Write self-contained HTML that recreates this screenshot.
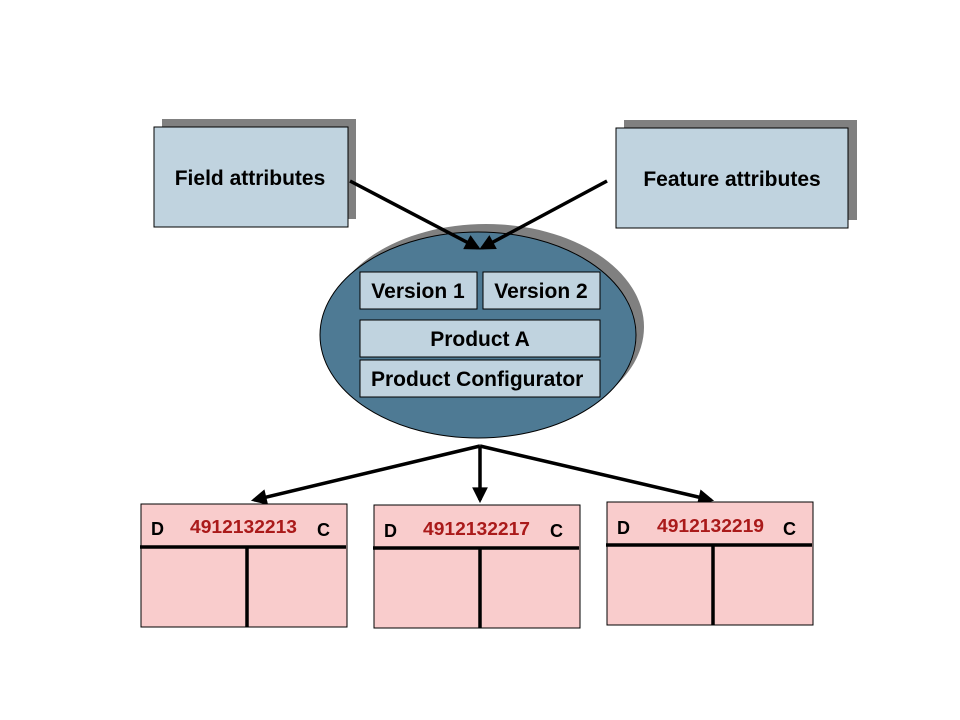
<!DOCTYPE html>
<html><head><meta charset="utf-8"><style>
html,body{margin:0;padding:0;background:#fff;}
svg{display:block;}
text{font-family:"Liberation Sans",Arial,sans-serif;font-weight:bold;}
</style></head><body>
<svg width="960" height="720" viewBox="0 0 960 720" xmlns="http://www.w3.org/2000/svg">
<defs>
<marker id="ah" viewBox="0 0 10 10" refX="8" refY="5" markerWidth="5" markerHeight="4.5" orient="auto" markerUnits="strokeWidth">
<path d="M0,0 L10,5 L0,10 z" fill="#000"/></marker>
</defs>
<rect x="162" y="119" width="194" height="100" fill="#808080"/>
<rect x="154" y="127" width="194" height="100" fill="#c0d3df" stroke="#000" stroke-width="1"/>
<text x="250" y="185" font-size="21" text-anchor="middle">Field attributes</text>
<rect x="624" y="120" width="233" height="100" fill="#808080"/>
<rect x="616" y="128" width="232" height="100" fill="#c0d3df" stroke="#000" stroke-width="1"/>
<text x="732" y="186" font-size="21" text-anchor="middle">Feature attributes</text>
<ellipse cx="486" cy="327" rx="158" ry="103" fill="#808080"/>
<ellipse cx="478" cy="335" rx="158" ry="103" fill="#4e7a94" stroke="#000" stroke-width="1"/>
<rect x="360" y="272" width="117" height="37" fill="#c0d3df" stroke="#000"/>
<rect x="483" y="272" width="117" height="37" fill="#c0d3df" stroke="#000"/>
<rect x="360" y="320" width="240" height="37" fill="#c0d3df" stroke="#000"/>
<rect x="360" y="360" width="240" height="37" fill="#c0d3df" stroke="#000"/>
<text x="418" y="298" font-size="21" text-anchor="middle">Version 1</text>
<text x="541" y="298" font-size="21" text-anchor="middle">Version 2</text>
<text x="480" y="346" font-size="21" text-anchor="middle">Product A</text>
<text x="371" y="386" font-size="21">Product Configurator</text>
<line x1="350" y1="181" x2="478" y2="248" stroke="#000" stroke-width="3.5" marker-end="url(#ah)"/>
<line x1="607" y1="181" x2="482" y2="248" stroke="#000" stroke-width="3.5" marker-end="url(#ah)"/>
<line x1="480" y1="446" x2="254" y2="500" stroke="#000" stroke-width="3.5" marker-end="url(#ah)"/>
<line x1="480" y1="446" x2="480" y2="500" stroke="#000" stroke-width="3.5" marker-end="url(#ah)"/>
<line x1="480" y1="446" x2="711" y2="500" stroke="#000" stroke-width="3.5" marker-end="url(#ah)"/>
<rect x="141" y="504" width="206" height="123" fill="#f9cccc" stroke="#000"/>
<line x1="140" y1="547" x2="346" y2="547" stroke="#000" stroke-width="3.5"/>
<line x1="247" y1="547" x2="247" y2="627" stroke="#000" stroke-width="3.5"/>
<text x="151" y="535" font-size="18">D</text>
<text x="190" y="533" font-size="18" fill="#aa1a1a" textLength="107" lengthAdjust="spacingAndGlyphs">4912132213</text>
<text x="317" y="536" font-size="18">C</text>
<rect x="374" y="505" width="206" height="123" fill="#f9cccc" stroke="#000"/>
<line x1="373" y1="548" x2="579" y2="548" stroke="#000" stroke-width="3.5"/>
<line x1="480" y1="548" x2="480" y2="628" stroke="#000" stroke-width="3.5"/>
<text x="384" y="537" font-size="18">D</text>
<text x="423" y="535" font-size="18" fill="#aa1a1a" textLength="107" lengthAdjust="spacingAndGlyphs">4912132217</text>
<text x="550" y="537" font-size="18">C</text>
<rect x="607" y="502" width="206" height="123" fill="#f9cccc" stroke="#000"/>
<line x1="606" y1="545" x2="812" y2="545" stroke="#000" stroke-width="3.5"/>
<line x1="713" y1="545" x2="713" y2="625" stroke="#000" stroke-width="3.5"/>
<text x="617" y="534" font-size="18">D</text>
<text x="657" y="532" font-size="18" fill="#aa1a1a" textLength="107" lengthAdjust="spacingAndGlyphs">4912132219</text>
<text x="783" y="535" font-size="18">C</text>
</svg>
</body></html>
